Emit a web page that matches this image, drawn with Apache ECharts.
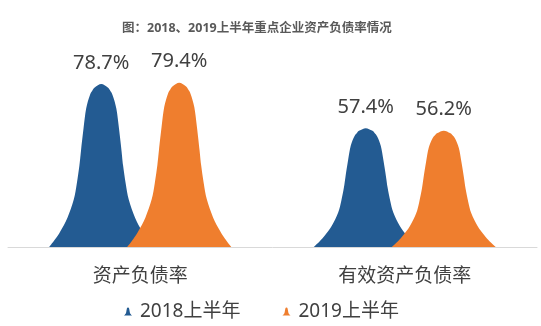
<!DOCTYPE html>
<html>
<head>
<meta charset="utf-8">
<script src="https://cdn.jsdelivr.net/npm/echarts@6/dist/echarts.min.js"></script>
<style>
  html, body { margin: 0; padding: 0; background: #fff; }
  #chart { width: 541px; height: 326px; }
</style>
</head>
<body>
<div id="chart"></div>
<script>
// Categories and values (percent)
const categories = ['资产负债率', '有效资产负债率'];
const seriesNames = ['2018上半年', '2019上半年'];
const values2018 = [78.7, 57.4];
const values2019 = [79.4, 56.2];
const colors = ['#235B92', '#EF7E2E'];

// Bell-shaped symbol outline: left flank from base to peak, in a 100x100 box
const leftFlank = [[0,100],[6,95],[11,90],[17.5,82],[23.5,71],[26.5,61],[29,50],[30.5,41],[33,27],[35.5,15],[39,7],[41.5,4],[44,2],[50,0]];

function bellPath() {
  const right = leftFlank.slice(0, -1).reverse().map(p => [100 - p[0], p[1]]);
  const pts = leftFlank.concat(right);
  let d = 'M' + pts[0][0] + ',' + pts[0][1];
  for (let i = 0; i < pts.length - 1; i++) {
    const p0 = pts[Math.max(i - 1, 0)], p1 = pts[i], p2 = pts[i + 1], p3 = pts[Math.min(i + 2, pts.length - 1)];
    const c1 = [p1[0] + (p2[0] - p0[0]) / 6, p1[1] + (p2[1] - p0[1]) / 6];
    const c2 = [p2[0] - (p3[0] - p1[0]) / 6, p2[1] - (p3[1] - p1[1]) / 6];
    d += ' C' + c1[0].toFixed(2) + ',' + c1[1].toFixed(2) + ' ' + c2[0].toFixed(2) + ',' + c2[1].toFixed(2) + ' ' + p2[0] + ',' + p2[1];
  }
  return 'path://' + d + ' Z';
}
const bell = bellPath();

const chart = echarts.init(document.getElementById('chart'), null, { renderer: 'canvas' });
const font = "'Noto Sans', 'Noto Sans CJK SC', sans-serif";

function makeSeries(name, data, color) {
  return {
    name: name,
    type: 'pictorialBar',
    data: data,
    symbol: bell,
    symbolSize: ['100%', '100%'],
    barWidth: 104,
    barGap: '-25%',
    itemStyle: { color: color },
    label: {
      show: true,
      position: 'top',
      distance: 11,
      formatter: p => p.value.toFixed(1) + '%',
      color: '#404040',
      fontSize: 20,
      fontFamily: font
    }
  };
}

chart.setOption({
  animation: false,
  title: {
    text: '图：2018、2019上半年重点企业资产负债率情况',
    left: 117,
    top: 17,
    textStyle: { fontSize: 12.5, fontWeight: 'bold', color: '#595959', fontFamily: font }
  },
  legend: {
    data: seriesNames.map(n => ({ name: n, icon: bell })),
    left: 119,
    top: 297,
    itemWidth: 8,
    itemHeight: 12,
    itemGap: 42,
    textStyle: { fontSize: 19, color: '#404040', fontFamily: font, padding: [0, 0, 0, 3] }
  },
  grid: { left: 8, right: 4, top: 40, bottom: 79 },
  xAxis: {
    type: 'category',
    data: categories,
    axisLine: { lineStyle: { color: '#D9D9D9', width: 1 } },
    axisTick: { show: false },
    axisLabel: { color: '#404040', fontSize: 19, margin: 20, fontFamily: font }
  },
  yAxis: {
    type: 'value',
    min: 0,
    max: 100,
    show: false
  },
  series: [
    makeSeries(seriesNames[0], values2018, colors[0]),
    makeSeries(seriesNames[1], values2019, colors[1])
  ]
});
</script>
</body>
</html>
